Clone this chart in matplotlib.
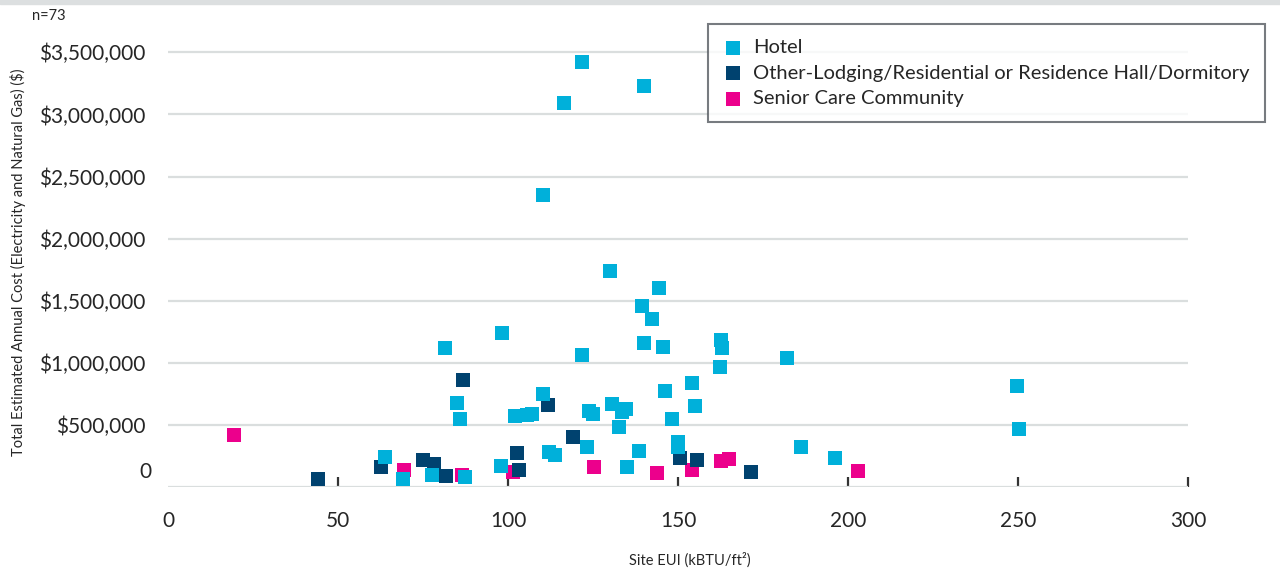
import matplotlib
matplotlib.use('Agg')
import matplotlib.pyplot as plt
from matplotlib.patches import Rectangle
from matplotlib.ticker import FuncFormatter

plt.rcParams['font.family'] = ['Lato', 'DejaVu Sans']

# Hotel
hotel_eui = [121.9, 140.1, 116.6, 110.4, 130.1, 144.5, 139.5, 142.4, 98.3, 162.7,
             140.0, 145.7, 81.6, 163.0, 121.9, 182.1, 162.4, 154.2, 249.7, 146.3,
             110.4, 85.1, 130.7, 155.1, 134.8, 123.9, 133.6, 125.1, 107.1, 105.7,
             102.2, 86.0, 148.3, 132.7, 250.3, 150.1, 123.3, 150.1, 186.3, 138.6,
             112.2, 113.9, 63.9, 196.3, 98.0, 135.1, 77.7, 87.4, 69.2]
hotel_cost = [3420000, 3230000, 3090000, 2350000, 1740000, 1600000, 1460000, 1350000, 1240000, 1180000,
              1160000, 1130000, 1120000, 1120000, 1060000, 1040000, 970000, 840000, 810000, 770000,
              750000, 680000, 670000, 650000, 630000, 610000, 600000, 585000, 585000, 577000,
              570000, 545000, 545000, 480000, 465000, 360000, 320000, 320000, 320000, 287000,
              280000, 255000, 239000, 231000, 167000, 159000, 100000, 78000, 62000]

# Other-Lodging/Residential or Residence Hall/Dormitory
other_eui = [44.2, 62.6, 75.1, 78.2, 81.9, 86.9, 102.7, 103.3, 111.9, 119.0, 150.7, 155.7, 171.6]
other_cost = [62000, 159000, 215000, 188000, 86000, 860000, 271000, 134000, 658000, 400000,
              231000, 215000, 118000]

# Senior Care Community
senior_eui = [19.5, 69.5, 86.6, 101.6, 125.4, 143.9, 154.2, 162.7, 165.1, 203.0]
senior_cost = [416000, 137000, 94000, 118000, 159000, 110000, 134000, 207000, 223000, 126000]

x_ticks = [0, 50, 100, 150, 200, 250, 300]
y_ticks = [0, 500000, 1000000, 1500000, 2000000, 2500000, 3000000, 3500000]

c_hotel = '#00b0da'
c_other = '#00426f'
c_senior = '#ec008c'

W, H = 1280, 569
fig = plt.figure(figsize=(W / 100, H / 100), dpi=100)
ax = fig.add_axes([168 / W, 82 / H, 1020 / W, 467 / H])

s = 88
ax.scatter(senior_eui, senior_cost, s=s, marker='s', color=c_senior, linewidths=0,
           label='Senior Care Community', zorder=3)
ax.scatter(other_eui, other_cost, s=s, marker='s', color=c_other, linewidths=0,
           label='Other-Lodging/Residential or Residence Hall/Dormitory', zorder=4)
ax.scatter(hotel_eui, hotel_cost, s=s, marker='s', color=c_hotel, linewidths=0,
           label='Hotel', zorder=5)

ax.set_xlim(0, 300)
ax.set_ylim(0, 467 * 500000 / 62.1)
ax.set_xticks(x_ticks)
ax.set_yticks(y_ticks)
ax.yaxis.set_major_formatter(FuncFormatter(lambda v, p: '' if v == 0 else '${:,.0f}'.format(v)))
ax.grid(axis='y', color='#dadede', lw=1.6, zorder=0)
ax.set_axisbelow(True)
for sp in ax.spines.values():
    sp.set_visible(False)
ax.tick_params(axis='x', direction='in', length=7, width=1.6, color='#333333',
               labelsize=15, labelcolor='#262626', pad=17)
ax.tick_params(axis='y', length=0, labelsize=15, labelcolor='#262626', pad=16)
ax.xaxis.get_major_ticks()[0].tick1line.set_visible(False)

# the "0" label sits a bit above the baseline
ax.annotate('0', xy=(0, 0), xycoords=('axes fraction', 'data'), xytext=(-12, 11),
            textcoords='offset points', ha='right', va='center', fontsize=15, color='#262626')

handles, labels = ax.get_legend_handles_labels()
leg = fig.legend(handles[::-1], labels[::-1], loc='upper left',
                 bbox_to_anchor=(708 / W, 1 - 24 / H), fontsize=14.5, frameon=True,
                 fancybox=False, markerscale=1.12, handlelength=1.0, handletextpad=0.5,
                 labelspacing=0.42, borderpad=0.75, borderaxespad=0)
leg.get_frame().set_edgecolor('#555a60')
leg.get_frame().set_linewidth(1.5)
for t in leg.get_texts():
    t.set_color('#262626')

fig.text(18 / W, 1 - 262 / H, 'Total Estimated Annual Cost (Electricity and Natural Gas) ($)',
         rotation=90, ha='center', va='center', fontsize=10.5, color='#262626')
fig.text(690 / W, 1 - 560 / H, 'Site EUI (kBTU/ft²)', ha='center', va='center',
         fontsize=10.5, color='#262626')
fig.text(32 / W, 1 - 16 / H, 'n=73', ha='left', va='center', fontsize=10.5, color='#262626')

fig.patches.append(Rectangle((0, 1 - 4 / H), 1, 4 / H, transform=fig.transFigure,
                             color='#dcdfe0', zorder=0))

fig.savefig('out.png', dpi=100)
